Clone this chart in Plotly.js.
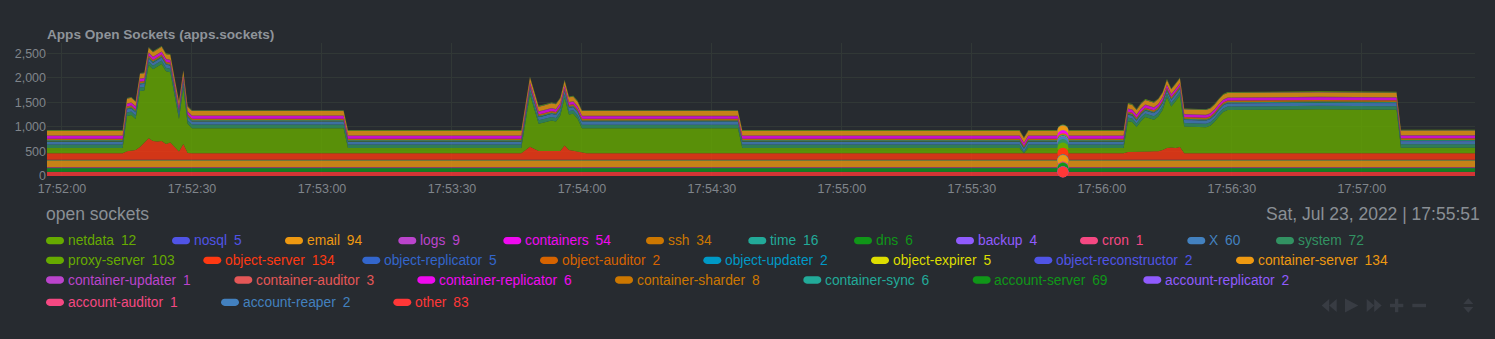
<!DOCTYPE html>
<html>
<head>
<meta charset="utf-8">
<script src="https://cdn.plot.ly/plotly-3.0.1.min.js"></script>
<style>
html,body{margin:0;padding:0;background:#272b30;}
#chart{width:1495px;height:339px;}
</style>
</head>
<body>
<div id="chart"></div>
<script>
// ---------- DATA ----------
const seriesNames = ['netdata','nosql','email','logs','containers','ssh','time','dns','backup','cron','X','system',
  'proxy-server','object-server','object-replicator','object-auditor','object-updater','object-expirer','object-reconstructor','container-server',
  'container-updater','container-auditor','container-replicator','container-sharder','container-sync','account-server','account-replicator',
  'account-auditor','account-reaper','other'];
const seriesColors = ['#66AA00','#5054e6','#EE9911','#BB44CC','#ef0aef','#CC7700','#22AA99','#109618','#905bfd','#f54882','#4381bf','#329262',
  '#66AA00','#FE3912','#3366CC','#D66300','#0099C6','#DDDD00','#5054e6','#EE9911',
  '#BB44CC','#e45757','#ef0aef','#CC7700','#22AA99','#109618','#905bfd',
  '#f54882','#4381bf','#ff3737'];
// values shown in the legend at the highlighted time (steady values of the flat series)
const hoverValues = [12,5,94,9,54,34,16,6,4,1,60,72,
  103,134,5,2,2,5,2,134,
  1,3,6,8,6,69,2,
  1,2,83];
const hoverDate = 'Sat, Jul 23, 2022';
const hoverTime = '17:55:51';
const day = '2022-07-23 ';
const flatTimes = ['17:51:56','17:57:27'];

const keyTimes = ['17:51:56','17:52:14','17:52:15','17:52:16','17:52:17','17:52:18','17:52:19','17:52:20','17:52:21','17:52:22',
  '17:52:23','17:52:24','17:52:25','17:52:26','17:52:27','17:52:28','17:52:29','17:52:30','17:53:05','17:53:06',
  '17:53:46','17:53:48','17:53:50','17:53:51','17:53:53','17:53:54','17:53:55','17:53:56','17:53:57','17:53:58',
  '17:53:59','17:54:00','17:54:01','17:54:36','17:54:37','17:55:41','17:55:42','17:55:43','17:55:51','17:56:05',
  '17:56:06','17:56:07','17:56:08','17:56:09','17:56:10','17:56:11','17:56:12','17:56:13','17:56:14','17:56:15',
  '17:56:16','17:56:17','17:56:18','17:56:19','17:56:24','17:56:25','17:56:26','17:56:27','17:56:28','17:56:29',
  '17:56:50','17:57:08','17:57:09','17:57:27'];
const proxyServer = [103,103,717,732,632,1142,1072,1492,1462,1522,
  1572,1482,1432,1042,662,1142,592,510,510,103,
  103,1064,552,574,624,601,721,972,722,751,
  664,492,508,508,103,103,0,103,103,103,
  627,602,497,617,697,664,642,706,816,1036,
  835,952,1049,543,528,558,638,748,838,878,
  893,883,110,110];
const objectServer = [134,134,175,180,200,260,340,440,380,370,
  380,320,350,260,170,320,140,134,134,134,
  134,265,180,178,175,178,180,290,200,185,
  170,150,134,134,134,134,134,134,134,134,
  160,165,168,170,172,170,172,175,200,240,
  250,240,260,134,134,134,134,134,134,134,
  134,134,134,134];
const systemTimes = ['17:51:56','17:55:41','17:55:42','17:55:43','17:57:27'];
const systemValues = [72,72,30,72,72];
const yTicks = [0,500,1000,1500,2000,2500];

// ---------- BUILD ----------
const L = 47, R = 1475, T = 43, B = 176;
const px = x => (x - L) / (R - L);
const py = y => (B - y) / (B - T);
function rgba(hex, a) {
  const h = hex.replace('#','');
  const r = parseInt(h.substr(0,2),16), g = parseInt(h.substr(2,2),16), b = parseInt(h.substr(4,2),16);
  return `rgba(${r},${g},${b},${a})`;
}
const varying = {
  'proxy-server': [keyTimes, proxyServer],
  'object-server': [keyTimes, objectServer],
  'system': [systemTimes, systemValues]
};

const traces = [];
for (let i = seriesNames.length - 1; i >= 0; i--) {
  const name = seriesNames[i];
  const v = varying[name];
  const xs = (v ? v[0] : flatTimes).map(t => day + t);
  const ys = v ? v[1] : flatTimes.map(() => hoverValues[i]);
  traces.push({
    type: 'scatter', mode: 'lines', name: name, x: xs, y: ys,
    stackgroup: 'apps', stackgaps: 'interpolate',
    line: {width: 0, color: seriesColors[i]},
    fillcolor: rgba(seriesColors[i], 0.8),
    hoverinfo: 'skip', showlegend: false
  });
}
// highlight dots at the hovered time (stacked values)
const cum = new Array(seriesNames.length);
let acc = 0;
for (let i = seriesNames.length - 1; i >= 0; i--) { acc += hoverValues[i]; cum[i] = acc; }
traces.push({
  type: 'scatter', mode: 'markers',
  x: seriesNames.map(() => day + hoverTime), y: cum,
  marker: {size: 11, color: seriesColors, line: {width: 0}},
  hoverinfo: 'skip', showlegend: false, cliponaxis: false
});

// legend layout (pixel positions)
const legendRows = [240.7, 260.3, 280, 302.3];
const legendX = [
  [46,172,285,398.3,503.3,646,748.3,854,956,1080,1187.3,1276],
  [46,203.3,362.3,540,703.3,871,1034.3,1236],
  [46,234.3,417.3,615,803.3,972.7,1143.3],
  [46,221,393.3]
];
const annotations = [];
const shapes = [];
function pillPath(x0, yc, w, h) {
  const r = h / 2, k = 0.5523 * r;
  const P = (x, y) => `${px(x)},${py(y)}`;
  return `M${P(x0+r, yc-r)} L${P(x0+w-r, yc-r)} C${P(x0+w-r+k, yc-r)} ${P(x0+w, yc-k)} ${P(x0+w, yc)} ` +
         `C${P(x0+w, yc+k)} ${P(x0+w-r+k, yc+r)} ${P(x0+w-r, yc+r)} L${P(x0+r, yc+r)} ` +
         `C${P(x0+r-k, yc+r)} ${P(x0, yc+k)} ${P(x0, yc)} C${P(x0, yc-k)} ${P(x0+r-k, yc-r)} ${P(x0+r, yc-r)} Z`;
}
let idx = 0;
legendX.forEach((row, ri) => {
  row.forEach(x0 => {
    const i = idx++;
    const yc = legendRows[ri];
    shapes.push({type: 'path', xref: 'paper', yref: 'paper', path: pillPath(x0, yc, 18, 7.3),
      fillcolor: seriesColors[i], line: {width: 0}, layer: 'above'});
    annotations.push({xref: 'paper', yref: 'paper', x: px(x0 + 21.5), y: py(yc), xanchor: 'left', yanchor: 'middle',
      text: seriesNames[i] + '\u2002' + hoverValues[i], showarrow: false, borderpad: 0, borderwidth: 0,
      font: {size: 13.8, color: seriesColors[i]}});
  });
});
annotations.push({xref: 'paper', yref: 'paper', x: px(46), y: py(213.5), xanchor: 'left', yanchor: 'middle',
  text: 'open sockets', showarrow: false, borderpad: 0, borderwidth: 0, font: {size: 17.5, color: '#8a8f95'}});
annotations.push({xref: 'paper', yref: 'paper', x: px(1480), y: py(213.5), xanchor: 'right', yanchor: 'middle',
  text: hoverDate + ' | ' + hoverTime, showarrow: false, borderpad: 0, borderwidth: 0, font: {size: 17.5, color: '#8a8f95'}});

// toolbox icons
const iconColor = '#383c43';
function poly(pts) {
  return 'M' + pts.map(p => `${px(p[0])},${py(p[1])}`).join(' L') + ' Z';
}
const icons = [
  [[1321.7,305.5],[1329.2,299],[1329.2,312]],
  [[1329.2,305.5],[1336.7,299],[1336.7,312]],
  [[1345,298.5],[1358.3,305.5],[1345,312.5]],
  [[1366.7,299],[1374.2,305.5],[1366.7,312]],
  [[1374.2,299],[1381.7,305.5],[1374.2,312]],
  [[1390,303.8],[1403.3,303.8],[1403.3,307.2],[1390,307.2]],
  [[1395,298.8],[1398.3,298.8],[1398.3,312.2],[1395,312.2]],
  [[1412.3,303.8],[1426,303.8],[1426,307.2],[1412.3,307.2]],
  [[1463.3,304],[1468.3,298.3],[1473.3,304]],
  [[1463.3,307],[1468.3,312.7],[1473.3,307]]
];
icons.forEach(p => shapes.push({type: 'path', xref: 'paper', yref: 'paper', path: poly(p),
  fillcolor: iconColor, line: {width: 0}, layer: 'above'}));

const layout = {
  width: 1495, height: 339,
  margin: {l: L, r: 1495 - R, t: T, b: 339 - B, pad: 0},
  paper_bgcolor: '#272b30', plot_bgcolor: '#272b30',
  font: {family: 'Liberation Sans, Arial, sans-serif', color: '#8a8f95'},
  title: {text: '<b>Apps Open Sockets (apps.sockets)</b>', xref: 'container', x: 47 / 1495, xanchor: 'left',
    yref: 'container', y: 1 - 34 / 339, yanchor: 'middle', pad: {l: 0, r: 0, t: 0, b: 0},
    font: {size: 13.6, color: '#8f949a'}},
  xaxis: {type: 'date', range: [day + '17:51:56.54', day + '17:57:26.1'],
    tick0: day + '17:52:00', dtick: 30000, tickformat: '%H:%M:%S',
    showgrid: true, gridcolor: '#313836', gridwidth: 1, zeroline: false, showline: false, ticks: '',
    ticklabelstandoff: 3,
    tickfont: {size: 12.5, color: '#80858b'}, fixedrange: true},
  yaxis: {range: [0, 2710], tickmode: 'array', tickvals: yTicks, ticktext: yTicks.map(v => v.toLocaleString('en-US')),
    showgrid: true, gridcolor: '#313836', gridwidth: 1, zeroline: false, showline: false, ticks: '',
    tickfont: {size: 12.5, color: '#80858b'}, fixedrange: true},
  showlegend: false, hovermode: false,
  annotations: annotations, shapes: shapes
};
Plotly.newPlot('chart', traces, layout, {displayModeBar: false, staticPlot: true});
</script>
</body>
</html>
